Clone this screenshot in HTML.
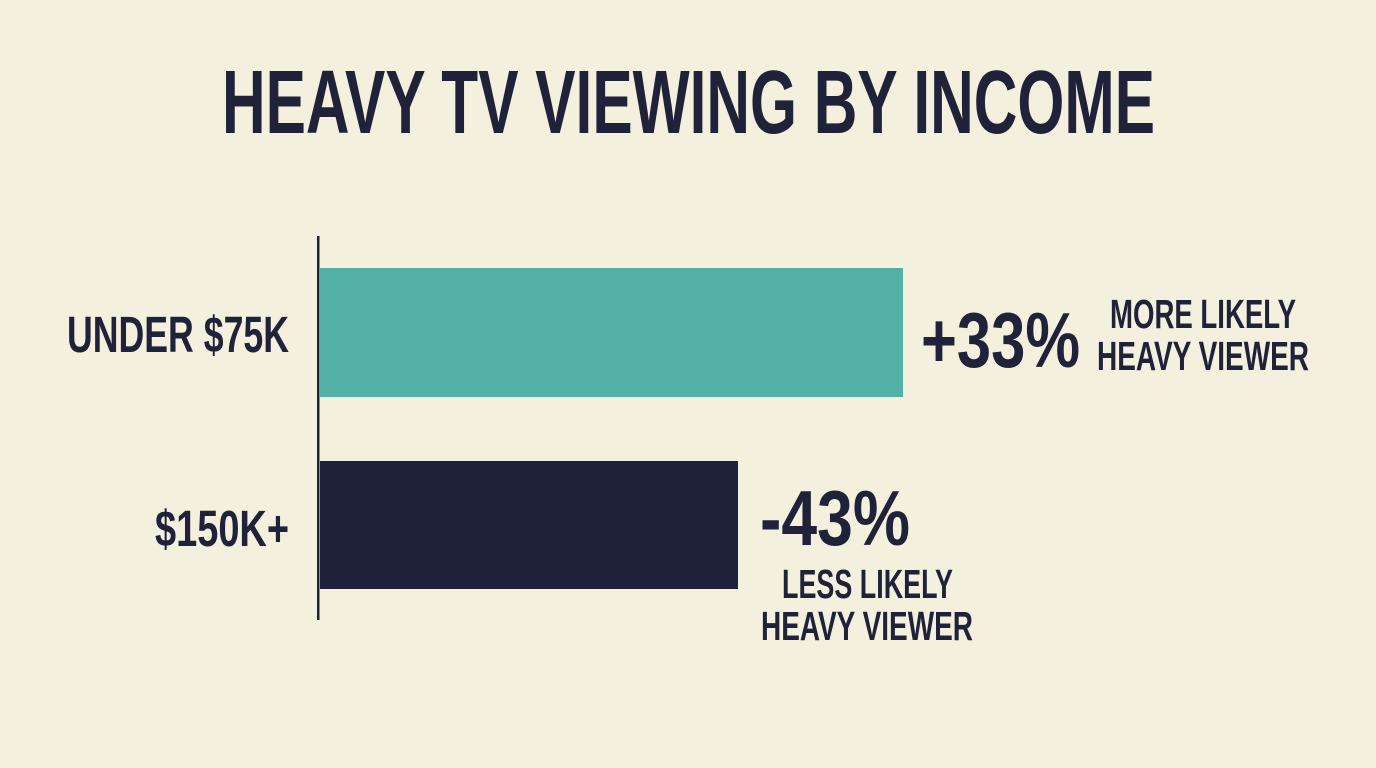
<!DOCTYPE html>
<html><head><meta charset="utf-8"><style>
html,body{margin:0;padding:0;background:#f3f0de;}
svg{display:block}
text{font-family:"Liberation Sans Narrow","Liberation Sans",sans-serif;font-weight:bold;fill:#20223a}
</style></head><body>
<svg width="1376" height="768" viewBox="0 0 1376 768">
<rect width="1376" height="768" fill="#f3f0de"/>
<text x="222" y="133" font-size="90" textLength="933" lengthAdjust="spacingAndGlyphs">HEAVY TV VIEWING BY INCOME</text>
<rect x="317" y="236" width="2.5" height="384" fill="#20223a"/>
<rect x="320" y="268" width="583" height="129" fill="#52b0a5"/>
<rect x="320" y="461" width="418" height="128" fill="#20223b"/>
<text x="67" y="352" font-size="51" textLength="222" lengthAdjust="spacingAndGlyphs">UNDER $75K</text>
<text x="155" y="546" font-size="51" textLength="134" lengthAdjust="spacingAndGlyphs">$150K+</text>
<text x="921" y="367" font-size="78" textLength="159" lengthAdjust="spacingAndGlyphs">+33%</text>
<text x="1110" y="328" font-size="41" textLength="186" lengthAdjust="spacingAndGlyphs">MORE LIKELY</text>
<text x="1097" y="370" font-size="41" textLength="212" lengthAdjust="spacingAndGlyphs">HEAVY VIEWER</text>
<text x="760" y="545" font-size="78" textLength="150" lengthAdjust="spacingAndGlyphs">-43%</text>
<text x="782" y="598" font-size="41" textLength="171" lengthAdjust="spacingAndGlyphs">LESS LIKELY</text>
<text x="761" y="640" font-size="41" textLength="212" lengthAdjust="spacingAndGlyphs">HEAVY VIEWER</text>
</svg>
</body></html>
